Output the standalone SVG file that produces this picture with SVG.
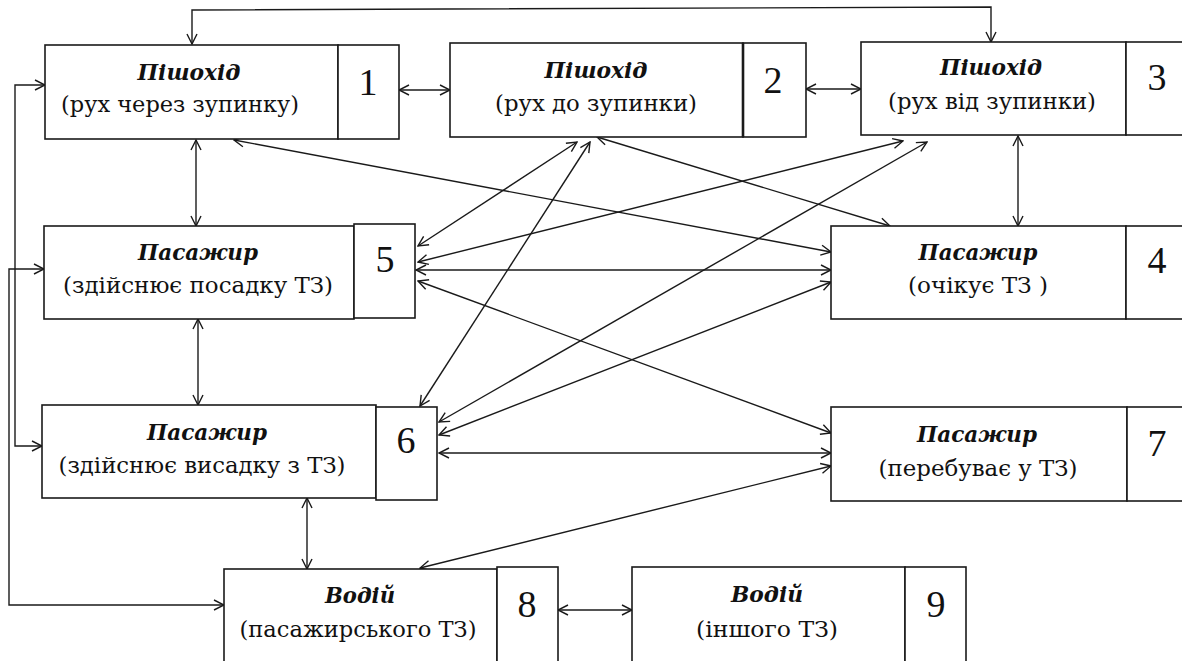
<svg xmlns="http://www.w3.org/2000/svg" width="1182" height="661" viewBox="0 0 1182 661">
<style>
.box{fill:#fff;stroke:#1a1a1a;stroke-width:1.6}
.t{font-family:"DejaVu Serif","Liberation Serif",serif;font-size:22px;font-weight:bold;font-style:italic;fill:#111;text-anchor:middle}
.s{font-family:"DejaVu Serif","Liberation Serif",serif;font-size:22px;fill:#111;text-anchor:middle}
.n{font-family:"Liberation Serif","DejaVu Serif",serif;font-size:38px;fill:#111;text-anchor:middle}
.c{fill:none;stroke:#1a1a1a;stroke-width:1.4;marker-start:url(#a);marker-end:url(#a)}
</style>
<defs>
<marker id="a" viewBox="0 0 12 12" refX="11" refY="6" markerWidth="12" markerHeight="12" markerUnits="userSpaceOnUse" orient="auto-start-reverse">
<path d="M1,1 L11,6 L1,11" fill="none" stroke="#1a1a1a" stroke-width="1.4"/>
</marker>
</defs>
<rect width="1182" height="661" fill="#fff"/>
<g id="connectors">
<path class="c" d="M192,44 V10 L991,7 V42"/>
<path class="c" d="M45,85 H15 V446 H42"/>
<path class="c" d="M44,269 H9 V605 H224"/>
<path class="c" d="M399,90 H450"/>
<path class="c" d="M806,89 H861"/>
<path class="c" d="M196,140 V226"/>
<path class="c" d="M1018,136 V226"/>
<path class="c" d="M198,319 V405"/>
<path class="c" d="M307,498 V569"/>
<path class="c" d="M558,610 H632"/>
<path class="c" d="M234,140 L831,252"/>
<path class="c" d="M577,142 L418,246"/>
<path class="c" d="M590,142 L420,406"/>
<path class="c" d="M597,137 L890,226"/>
<path class="c" d="M903,141 L418,262"/>
<path class="c" d="M927,142 L439,422"/>
<path class="c" d="M416,270 L831,270"/>
<path class="c" d="M418,281 L831,433"/>
<path class="c" d="M439,435 L831,282"/>
<path class="c" d="M439,453 L831,453"/>
<path class="c" d="M420,568 L831,466"/>
</g>
<g id="node1">
<rect class="box" x="45" y="45" width="293" height="94"/>
<rect class="box" x="338" y="45" width="61" height="94"/>
<text class="t" x="189" y="80" textLength="103" lengthAdjust="spacingAndGlyphs">Пішохід</text>
<text class="s" x="180" y="112" textLength="238" lengthAdjust="spacingAndGlyphs">(рух через зупинку)</text>
<text class="n" x="368" y="95">1</text>
</g>
<g id="node2">
<rect class="box" x="450" y="43" width="293" height="94"/>
<rect class="box" x="743" y="43" width="63" height="94"/>
<line x1="743" y1="43" x2="743" y2="137" stroke="#1a1a1a" stroke-width="2.6"/>
<text class="t" x="596" y="78" textLength="103" lengthAdjust="spacingAndGlyphs">Пішохід</text>
<text class="s" x="596" y="111" textLength="202" lengthAdjust="spacingAndGlyphs">(рух до зупинки)</text>
<text class="n" x="773" y="93">2</text>
</g>
<g id="node3">
<rect class="box" x="861" y="42" width="265" height="93"/>
<rect class="box" x="1126" y="42" width="70" height="93"/>
<text class="t" x="991" y="75" textLength="102" lengthAdjust="spacingAndGlyphs">Пішохід</text>
<text class="s" x="992" y="109" textLength="208" lengthAdjust="spacingAndGlyphs">(рух від зупинки)</text>
<text class="n" x="1157" y="90">3</text>
</g>
<g id="node5">
<rect class="box" x="44" y="226" width="310" height="93"/>
<rect class="box" x="354" y="224" width="61" height="94"/>
<text class="t" x="198" y="260" textLength="120" lengthAdjust="spacingAndGlyphs">Пасажир</text>
<text class="s" x="198" y="293" textLength="270" lengthAdjust="spacingAndGlyphs">(здійснює посадку ТЗ)</text>
<text class="n" x="385" y="272">5</text>
</g>
<g id="node4">
<rect class="box" x="831" y="226" width="295" height="93"/>
<rect class="box" x="1126" y="226" width="70" height="93"/>
<text class="t" x="978" y="260" textLength="119" lengthAdjust="spacingAndGlyphs">Пасажир</text>
<text class="s" x="978" y="293" textLength="140" lengthAdjust="spacingAndGlyphs">(очікує ТЗ )</text>
<text class="n" x="1157" y="273">4</text>
</g>
<g id="node6">
<rect class="box" x="42" y="405" width="334" height="93"/>
<rect class="box" x="376" y="407" width="61" height="93"/>
<text class="t" x="207" y="440" textLength="120" lengthAdjust="spacingAndGlyphs">Пасажир</text>
<text class="s" x="202" y="473" textLength="287" lengthAdjust="spacingAndGlyphs">(здійснює висадку з ТЗ)</text>
<text class="n" x="406" y="453">6</text>
</g>
<g id="node7">
<rect class="box" x="831" y="407" width="296" height="94"/>
<rect class="box" x="1127" y="407" width="70" height="94"/>
<text class="t" x="977" y="442" textLength="120" lengthAdjust="spacingAndGlyphs">Пасажир</text>
<text class="s" x="978" y="476" textLength="199" lengthAdjust="spacingAndGlyphs">(перебуває у ТЗ)</text>
<text class="n" x="1157" y="456">7</text>
</g>
<g id="node8">
<rect class="box" x="224" y="569" width="273" height="100"/>
<rect class="box" x="497" y="567" width="61" height="102"/>
<text class="t" x="360" y="603" textLength="70" lengthAdjust="spacingAndGlyphs">Водій</text>
<text class="s" x="358" y="637" textLength="237" lengthAdjust="spacingAndGlyphs">(пасажирського ТЗ)</text>
<text class="n" x="527" y="617">8</text>
</g>
<g id="node9">
<rect class="box" x="632" y="567" width="273" height="102"/>
<rect class="box" x="905" y="567" width="61" height="102"/>
<text class="t" x="767" y="602" textLength="72" lengthAdjust="spacingAndGlyphs">Водій</text>
<text class="s" x="767" y="637" textLength="142" lengthAdjust="spacingAndGlyphs">(іншого ТЗ)</text>
<text class="n" x="936" y="617">9</text>
</g>
</svg>
